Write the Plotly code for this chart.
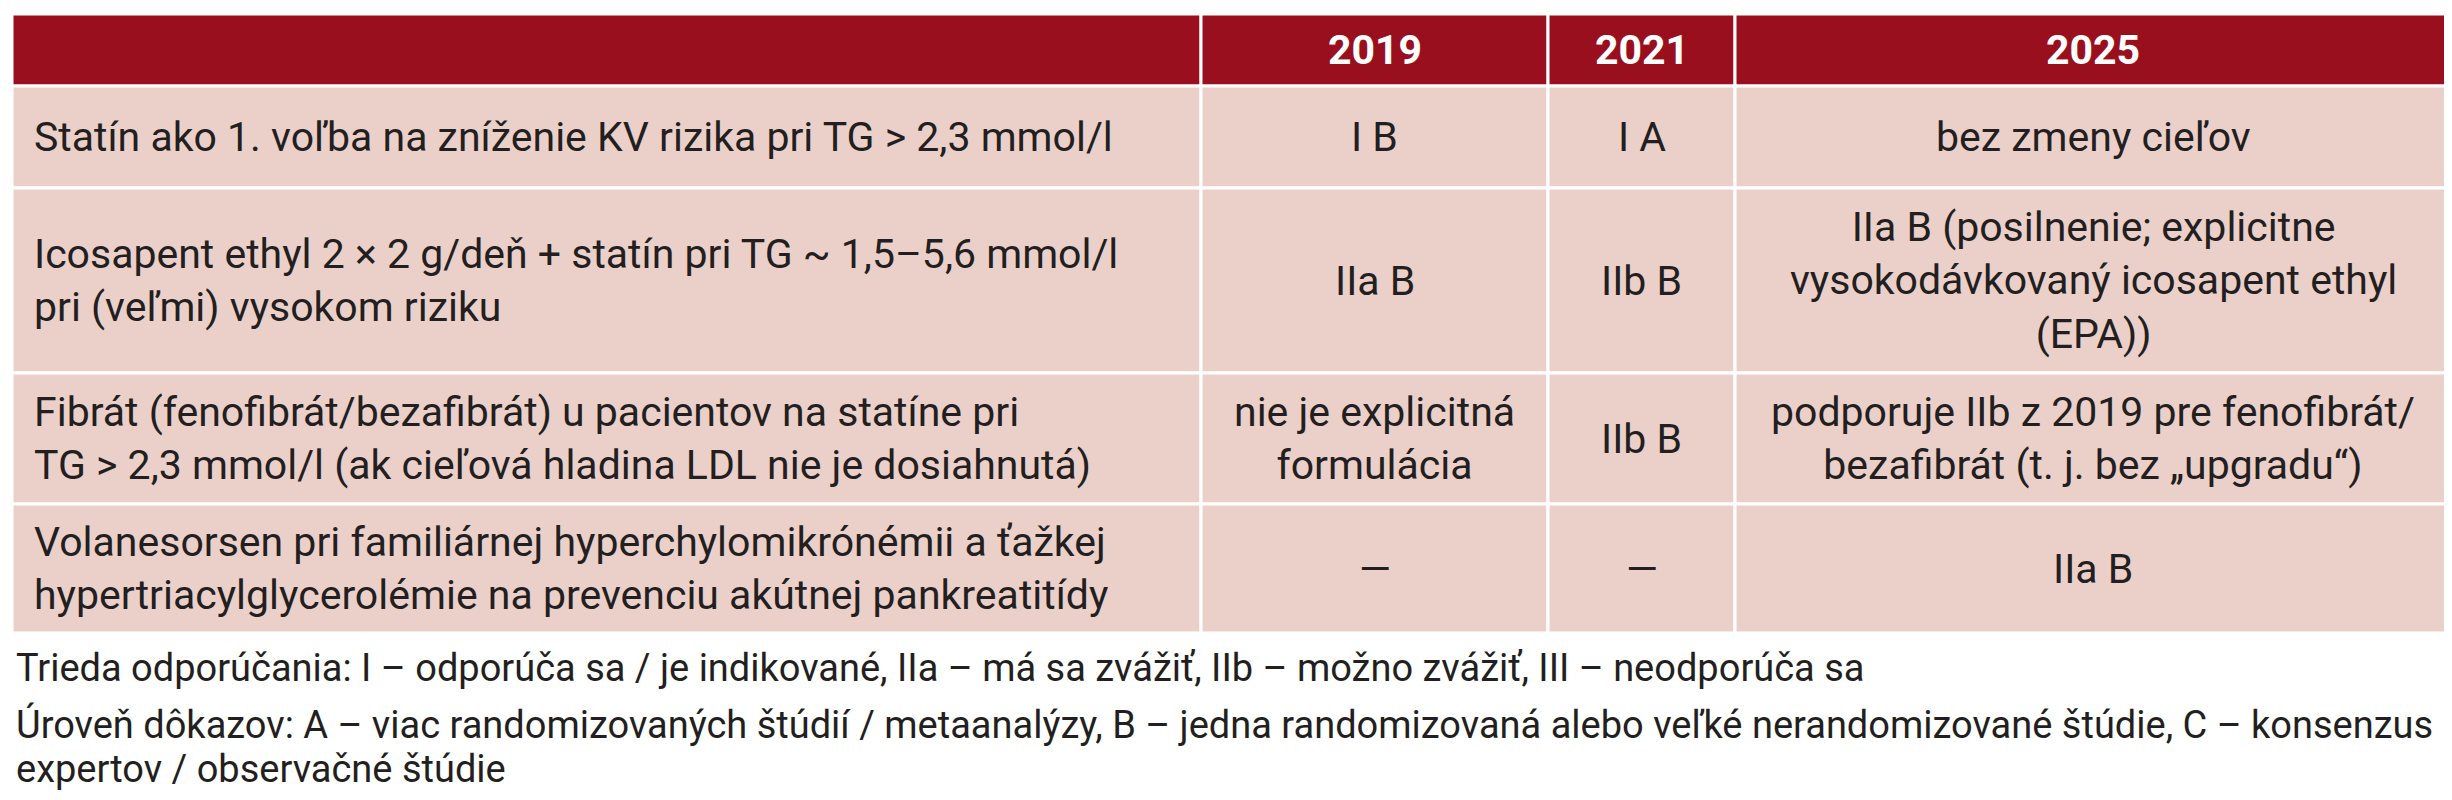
import plotly.graph_objects as go

# table content
header = ["", "2019", "2021", "2025"]
criteria = [
    "Statín ako 1. voľba na zníženie KV rizika pri TG > 2,3 mmol/l",
    "Icosapent ethyl 2 × 2 g/deň + statín pri TG ~ 1,5–5,6 mmol/l<br>pri (veľmi) vysokom riziku",
    "Fibrát (fenofibrát/bezafibrát) u pacientov na statíne pri<br>TG > 2,3 mmol/l (ak cieľová hladina LDL nie je dosiahnutá)",
    "Volanesorsen pri familiárnej hyperchylomikrónémii a ťažkej<br>hypertriacylglycerolémie na prevenciu akútnej pankreatitídy",
]
col_2019 = ["I B", "IIa B", "nie je explicitná<br>formulácia", "—"]
col_2021 = ["I A", "IIb B", "IIb B", "—"]
col_2025 = [
    "bez zmeny cieľov",
    "IIa B (posilnenie; explicitne<br>vysokodávkovaný icosapent ethyl<br>(EPA))",
    "podporuje IIb z 2019 pre fenofibrát/<br>bezafibrát (t. j. bez „upgradu“)",
    "IIa B",
]
footnotes = [
    "Trieda odporúčania: I – odporúča sa / je indikované, IIa – má sa zvážiť, IIb – možno zvážiť, III – neodporúča sa",
    "Úroveň dôkazov: A – viac randomizovaných štúdií / metaanalýzy, B – jedna randomizovaná alebo veľké nerandomizované štúdie, C – konsenzus",
    "expertov / observačné štúdie",
]

# layout in pixel coordinates
col_edges = [4, 1193, 1540, 1727, 2443]
row_edges = [6, 78, 180, 365, 496, 625]
foot_y = [660, 716, 761]

HEAD = "#9a0f1e"
BODY = "#ebd0ca"
TEXT = "#231f20"
FONT = "Liberation Sans Narrow, Roboto, sans-serif"

fig = go.Figure()
shapes = []
annotations = []

rows = [header] + [list(r) for r in zip(criteria, col_2019, col_2021, col_2025)]
for r, row in enumerate(rows):
    y0, y1 = row_edges[r], row_edges[r + 1]
    for c, txt in enumerate(row):
        x0, x1 = col_edges[c], col_edges[c + 1]
        shapes.append(dict(type="rect", x0=x0, x1=x1, y0=y0, y1=y1,
                           fillcolor=HEAD if r == 0 else BODY,
                           line=dict(color="white", width=3), layer="below"))
        if not txt:
            continue
        if c == 0:
            annotations.append(dict(x=x0 + 20, y=(y0 + y1) / 2, text=txt, showarrow=False,
                                    xanchor="left", align="left",
                                    font=dict(size=41, color=TEXT, family=FONT)))
        else:
            annotations.append(dict(x=(x0 + x1) / 2, y=(y0 + y1) / 2,
                                    text=f"<b>{txt}</b>" if r == 0 else txt,
                                    showarrow=False, align="center",
                                    font=dict(size=41, color="white" if r == 0 else TEXT,
                                              family=FONT)))

for y, txt in zip(foot_y, footnotes):
    annotations.append(dict(x=6, y=y, text=txt, showarrow=False, xanchor="left",
                            font=dict(size=38, color=TEXT, family=FONT)))

fig.update_layout(
    width=2452, height=800,
    margin=dict(l=0, r=0, t=0, b=0),
    paper_bgcolor="white", plot_bgcolor="white",
    xaxis=dict(range=[0, 2452], visible=False, fixedrange=True),
    yaxis=dict(range=[800, 0], visible=False, fixedrange=True),
    shapes=shapes, annotations=annotations,
)

fig.write_html("out.html", config={"displayModeBar": False})
